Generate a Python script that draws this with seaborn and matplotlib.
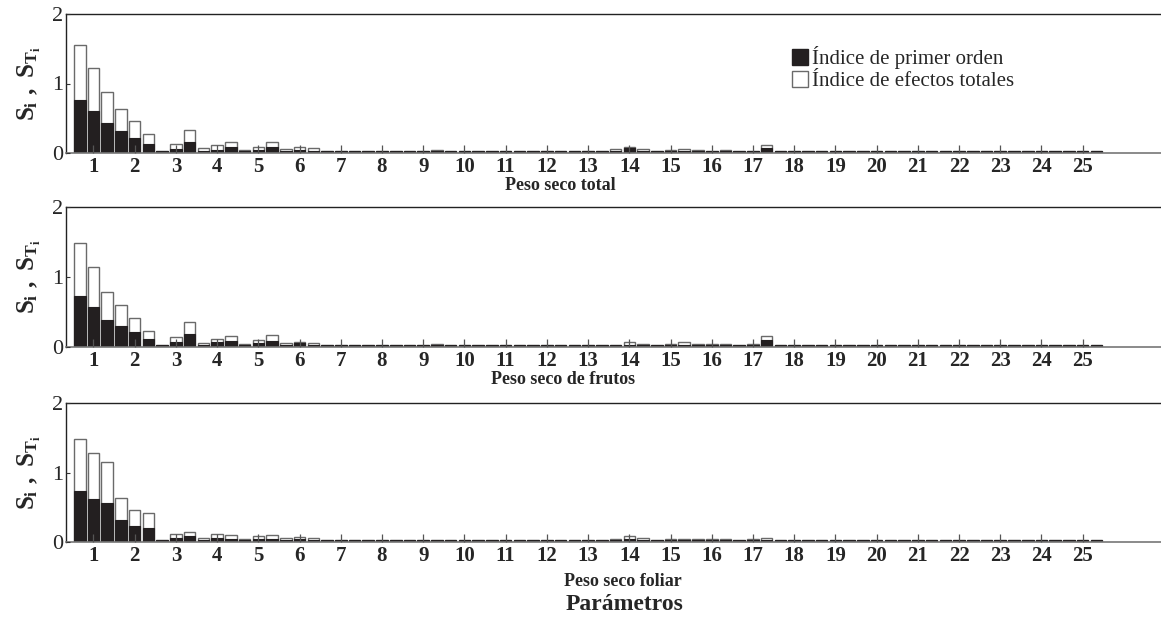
import numpy as np
import pandas as pd
import matplotlib
matplotlib.use("Agg")
import matplotlib.pyplot as plt
from matplotlib.patches import Patch
import seaborn as sns

# 25 parameters, 3 bars per parameter (75 bars per panel)
params = [str(i) for i in range(1, 26)]
z3 = [0.03, 0.03, 0.03]

st_total = ([1.55, 1.23, 0.88] + [0.63, 0.46, 0.28] + [0.03, 0.13, 0.33] + [0.07, 0.11, 0.16]
            + [0.04, 0.08, 0.16] + [0.06, 0.09, 0.065] + [0.03, 0.03, 0.03] + z3
            + [0.03, 0.03, 0.05] + z3 + z3 + z3 + z3
            + [0.06, 0.09, 0.06] + [0.03, 0.04, 0.06] + [0.04, 0.035, 0.04] + [0.03, 0.03, 0.11]
            + z3 * 8)
si_total = ([0.76, 0.61, 0.435] + [0.31, 0.22, 0.135] + [0.03, 0.06, 0.155] + [0.035, 0.04, 0.08]
            + [0.03, 0.05, 0.08] + [0.035, 0.04, 0.035] + [0.03, 0.03, 0.03] + z3
            + [0.03, 0.03, 0.03] + z3 + z3 + z3 + z3
            + [0.03, 0.065, 0.03] + [0.03, 0.03, 0.03] + [0.03, 0.03, 0.03] + [0.03, 0.03, 0.07]
            + z3 * 8)

st_frutos = ([1.49, 1.14, 0.78] + [0.60, 0.42, 0.23] + [0.03, 0.14, 0.36] + [0.057, 0.11, 0.157]
             + [0.047, 0.10, 0.17] + [0.057, 0.07, 0.057] + [0.03, 0.03, 0.03] + z3
             + [0.03, 0.03, 0.04] + z3 + z3 + z3 + z3
             + [0.03, 0.07, 0.04] + [0.03, 0.04, 0.065] + [0.045, 0.045, 0.045] + [0.03, 0.04, 0.15]
             + z3 * 8)
si_frutos = ([0.733, 0.566, 0.39] + [0.294, 0.21, 0.11] + [0.03, 0.066, 0.18] + [0.03, 0.066, 0.08]
             + [0.03, 0.05, 0.085] + [0.03, 0.05, 0.035] + [0.03, 0.03, 0.03] + z3
             + [0.03, 0.03, 0.03] + z3 + z3 + z3 + z3
             + [0.03, 0.03, 0.03] + [0.03, 0.03, 0.03] + [0.03, 0.03, 0.03] + [0.03, 0.03, 0.095]
             + z3 * 8)

st_foliar = ([1.48, 1.275, 1.155] + [0.64, 0.467, 0.415] + [0.03, 0.115, 0.15] + [0.055, 0.115, 0.10]
             + [0.04, 0.09, 0.10] + [0.06, 0.075, 0.055] + [0.03, 0.03, 0.03] + z3
             + z3 + z3 + z3 + z3 + z3
             + [0.04, 0.08, 0.06] + [0.03, 0.04, 0.05] + [0.05, 0.045, 0.045] + [0.03, 0.04, 0.06]
             + z3 * 8)
si_foliar = ([0.74, 0.625, 0.563] + [0.32, 0.234, 0.205] + [0.03, 0.06, 0.08] + [0.03, 0.06, 0.05]
             + [0.03, 0.05, 0.05] + [0.03, 0.04, 0.03] + [0.03, 0.03, 0.03] + z3
             + z3 + z3 + z3 + z3 + z3
             + [0.03, 0.04, 0.03] + [0.03, 0.03, 0.03] + [0.03, 0.03, 0.03] + [0.03, 0.03, 0.035]
             + z3 * 8)

panel_titles = ["Peso seco total", "Peso seco de frutos", "Peso seco foliar"]
panels = [(st_total, si_total), (st_frutos, si_frutos), (st_foliar, si_foliar)]

sns.set_theme(style="white")
plt.rcParams['font.family'] = ['Liberation Serif', 'DejaVu Serif']
plt.rcParams['mathtext.fontset'] = 'custom'
plt.rcParams['mathtext.rm'] = 'Liberation Serif:bold'
plt.rcParams['mathtext.it'] = 'Liberation Serif:bold'
plt.rcParams['mathtext.bf'] = 'Liberation Serif:bold'

fig = plt.figure(figsize=(11.61, 6.19), dpi=100)
left, width = 66 / 1161, 1 - 66 / 1161
tops = [14, 207, 403]
bottoms = [153, 347, 542]
black = '#231f20'
edge_white = '#6a6a6a'

for k, ((st, si), title) in enumerate(zip(panels, panel_titles)):
    b = 1 - bottoms[k] / 619
    h = (bottoms[k] - tops[k]) / 619
    ax = fig.add_axes([left, b, width, h])
    n = len(st)
    df = pd.DataFrame({"bar": list(range(n)), "ST": st, "Si": si})
    sns.barplot(data=df, x="bar", y="ST", color="white", edgecolor=edge_white,
                linewidth=1.0, width=0.84, saturation=1, ax=ax, zorder=1)
    sns.barplot(data=df, x="bar", y="Si", color=black, edgecolor=black,
                linewidth=0.8, width=0.84, saturation=1, ax=ax, zorder=1.2)
    ax.set_axisbelow(False)
    ax.set_xlim(-1, 78.7)
    ax.set_ylim(0, 2)
    ax.set_yticks([0, 1, 2])
    ax.set_yticklabels(["0", "1", "2"], fontsize=16)
    ticks = [3 * i + 1 for i in range(len(params))]
    ax.set_xticks(ticks)
    ax.set_xticklabels(params, fontsize=15, fontweight='bold')
    ax.tick_params(axis='x', bottom=True, direction='in', length=6, width=0.9,
                   color='#555555', pad=3)
    ax.tick_params(axis='y', left=True, direction='in', length=3, width=0.8,
                   color='#333333', pad=2)
    ax.set_xlabel("")
    ax.set_ylabel(r"$S_i\ ,\ S_{T_i}$", fontsize=18)
    ax.yaxis.set_label_coords(-0.021, 0.5)
    for s in ['left', 'top']:
        ax.spines[s].set_color('#222222')
        ax.spines[s].set_linewidth(1.0)
    ax.spines['bottom'].set_color('#777777')
    ax.spines['bottom'].set_linewidth(1.2)
    ax.spines['right'].set_visible(False)
    if k == 0:
        handles = [Patch(facecolor=black, edgecolor=black, label="Índice de primer orden"),
                   Patch(facecolor='white', edgecolor=edge_white, label="Índice de efectos totales")]
        ax.legend(handles=handles, loc='upper left', bbox_to_anchor=(0.655, 0.83),
                  frameon=False, fontsize=15, handlelength=0.8, handleheight=0.8,
                  handletextpad=0.2, labelspacing=0.1, borderaxespad=0)

fig.text(560 / 1161, 1 - 186 / 619, panel_titles[0], ha='center', va='center',
         fontsize=13, fontweight='bold')
fig.text(563 / 1161, 1 - 380 / 619, panel_titles[1], ha='center', va='center',
         fontsize=13, fontweight='bold')
fig.text(623 / 1161, 1 - 582 / 619, panel_titles[2], ha='center', va='center',
         fontsize=13, fontweight='bold')
fig.text(625 / 1161, 1 - 604 / 619, "Parámetros", ha='center', va='center',
         fontsize=17, fontweight='bold')

fig.savefig("out.png", dpi=100)
